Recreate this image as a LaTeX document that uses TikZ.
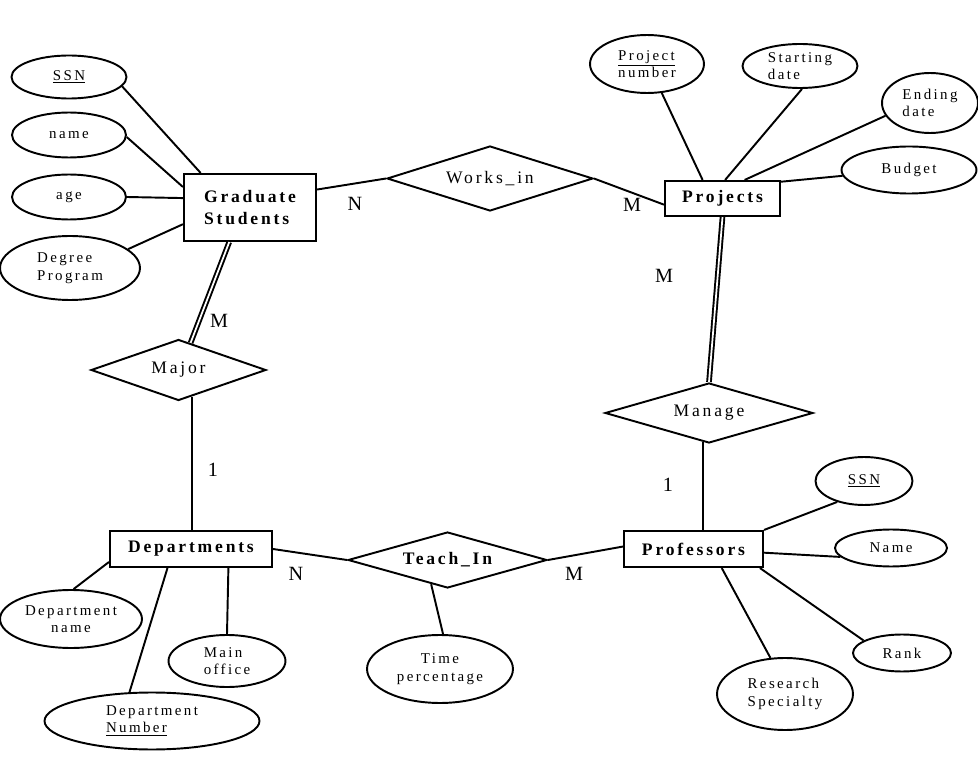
\documentclass[tikz,border=0pt]{standalone}
\usepackage{fontspec}
\setmainfont{Liberation Serif}
\newfontfamily\erfont{Liberation Serif}[LetterSpace=16]
\usetikzlibrary{shapes.geometric,calc}
\tikzset{
  % entity set
  entity/.style={rectangle, draw, line width=1.2pt, inner sep=2pt,
                 font=\erfont\fontsize{10}{12.5}\selectfont\bfseries},
  % relationship
  rel/.style={diamond, aspect=3.2, draw, line width=1.1pt, inner sep=0pt,
              font=\erfont\fontsize{10}{12}\selectfont},
  % attribute
  attrib/.style={ellipse, draw, line width=1.1pt, inner sep=0pt, align=left,
                 font=\erfont\fontsize{8.5}{10}\selectfont},
  % plain connector
  conn/.style={line width=1.1pt},
  % total participation
  total/.style={double, double distance=1pt, line width=1.1pt},
  % cardinality
  card/.style={font=\fontsize{11.5}{13}\selectfont},
}
\begin{document}
\begin{tikzpicture}[x=0.02cm, y=-0.02cm]
  \useasboundingbox (0,0) rectangle (978,760);

  % Entities
  \node[entity, minimum width=2.64cm, minimum height=1.34cm, align=left] (grad) at (250,207.5) {Graduate\\Students};
  \node[entity, minimum width=2.3cm, minimum height=0.7cm] (proj) at (722.5,198.5) {Projects};
  \node[entity, minimum width=3.24cm, minimum height=0.72cm] (dept) at (191,549) {Departments};
  \node[entity, minimum width=2.78cm, minimum height=0.72cm] (prof) at (693.5,549) {Professors};

  % Relationships
  \node[rel, minimum width=4.12cm, minimum height=1.3cm] (works) at (490,178.5) {Works\_in};
  \node[rel, minimum width=3.5cm, minimum height=1.22cm] (major) at (178.5,370) {Major};
  \node[rel, minimum width=4.16cm, minimum height=1.2cm] (manage) at (709,413) {Manage};
  \node[rel, minimum width=3.98cm, minimum height=1.12cm, font=\erfont\fontsize{10}{12}\selectfont\bfseries] (teach) at (447.5,560) {Teach\_In};

  % Attributes of Graduate Students
  \node[attrib, minimum width=2.3cm, minimum height=0.86cm] (gssn) at (69,77) {\underline{SSN}};
  \node[attrib, minimum width=2.28cm, minimum height=0.9cm] (gname) at (69,135) {name};
  \node[attrib, minimum width=2.28cm, minimum height=0.9cm] (gage) at (69,197) {age};
  \node[attrib, minimum width=2.8cm, minimum height=1.28cm] (gdeg) at (70,268) {Degree\\Program};

  % Attributes of Projects
  \node[attrib, minimum width=2.28cm, minimum height=1.16cm] (pnum) at (647,64) {\underline{Project}\\number};
  \node[attrib, minimum width=2.3cm, minimum height=0.88cm] (pstart) at (800,66) {Starting\\date};
  \node[attrib, minimum width=1.92cm, minimum height=1.2cm] (pend) at (930,103) {Ending\\date};
  \node[attrib, minimum width=2.7cm, minimum height=0.94cm] (pbud) at (909,170) {Budget};

  % Attributes of Departments
  \node[attrib, minimum width=2.84cm, minimum height=1.16cm, align=center] (dname) at (71,619) {Department\\name};
  \node[attrib, minimum width=2.34cm, minimum height=1.04cm] (dmain) at (227,661) {Main\\office};
  \node[attrib, minimum width=4.3cm, minimum height=1.14cm] (dnum) at (152,721) {Department\\\underline{Number}};

  % Attribute of Teach_In
  \node[attrib, minimum width=2.92cm, minimum height=1.36cm, align=center] (ttime) at (440,669) {Time\\percentage};

  % Attributes of Professors
  \node[attrib, minimum width=1.94cm, minimum height=0.96cm] (fssn) at (864,481) {\underline{SSN}};
  \node[attrib, minimum width=2.24cm, minimum height=0.74cm] (fname) at (891,548) {Name};
  \node[attrib, minimum width=1.96cm, minimum height=0.74cm] (frank) at (902,653) {Rank};
  \node[attrib, minimum width=2.72cm, minimum height=1.44cm] (fres) at (785,694) {Research\\Specialty};

  % Attribute lines
  \draw[conn] (gssn.-10) -- (grad.145);
  \draw[conn] (gname.-2) -- (grad.163);
  \draw[conn] (gage.east) -- (grad.172);
  \draw[conn] (gdeg.18) -- (grad.194);
  \draw[conn] (pnum.-63) -- (proj.137);
  \draw[conn] (pstart.-85) -- (proj.82);
  \draw[conn] (pend.196) -- (proj.40);
  \draw[conn] (pbud.185) -- (proj.16);
  \draw[conn] (dname.85) -- (dept.189);
  \draw[conn] (dnum.128) -- (dept.219);
  \draw[conn] (dmain.north) -- (dept.-27);
  \draw[conn] (ttime.85) -- (teach.236);
  \draw[conn] (fssn.218) -- (prof.north east);
  \draw[conn] (fname.190) -- (prof.-3);
  \draw[conn] (frank.162) -- (prof.-16);
  \draw[conn] (fres.112) -- (prof.-34);

  % Relationship lines
  \draw[conn] (grad.15) -- (works.west);
  \draw[conn] (works.east) -- (proj.186);
  \draw[total] (grad.239) -- (major.66);
  \draw[conn] (major.-64) -- (major.-64 |- dept.north);
  \draw[total] (proj.south) -- (manage.north);
  \draw[conn] (manage.-102) -- (manage.-102 |- prof.north);
  \draw[conn] (dept.east) -- (teach.west);
  \draw[conn] (teach.east) -- (prof.178);

  % Cardinalities
  \node[card] (cgw) at (355,204) {N};
  \node[card] (cwp) at (632,205) {M};
  \node[card] (cpm) at (664,276) {M};
  \node[card] (cgm) at (219,321) {M};
  \node[card] (cmd) at (213,470) {1};
  \node[card] (cmp) at (668,485) {1};
  \node[card] (cdt) at (296,574) {N};
  \node[card] (ctp) at (574,574) {M};
\end{tikzpicture}
\end{document}
